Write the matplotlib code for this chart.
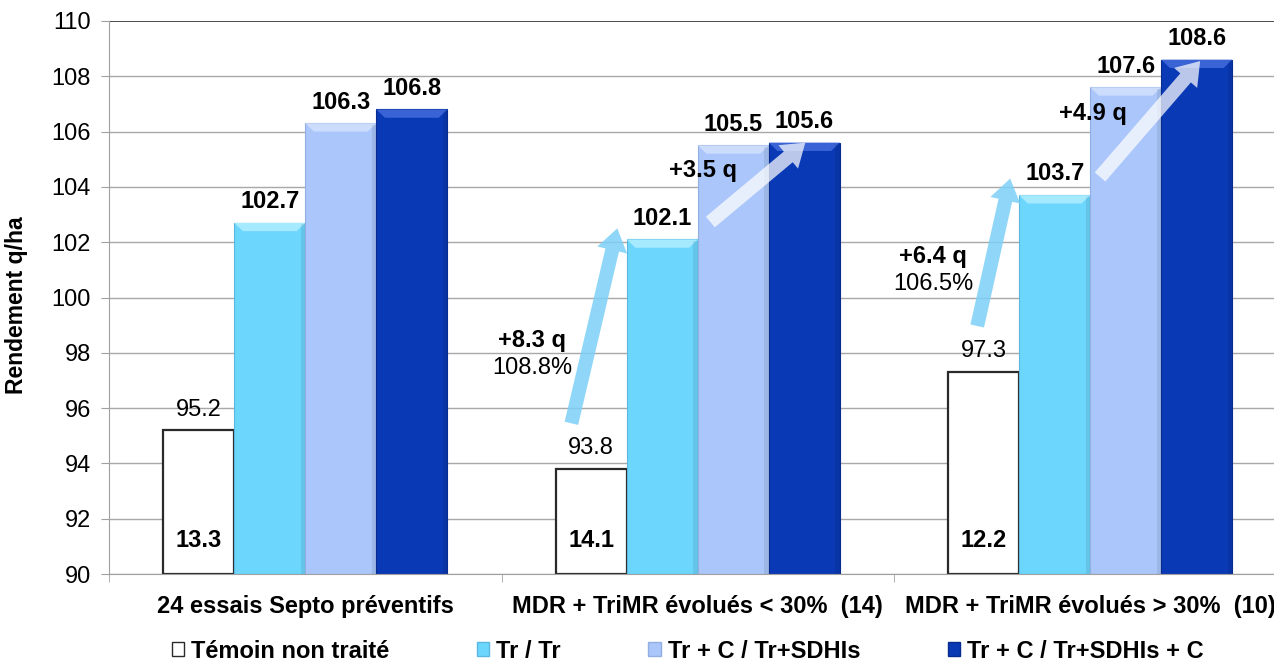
import matplotlib
matplotlib.use("Agg")
import matplotlib.pyplot as plt
from matplotlib.patches import Polygon, FancyArrowPatch, Rectangle
import numpy as np

plt.rcParams["font.family"] = ["Liberation Sans", "DejaVu Sans"]

# ---- data -------------------------------------------------------------
categories = [
    "24 essais Septo préventifs",
    "MDR + TriMR évolués < 30%  (14)",
    "MDR + TriMR évolués > 30%  (10)",
]
series_names = [
    "Témoin non traité",
    "Tr / Tr",
    "Tr + C / Tr+SDHIs",
    "Tr + C / Tr+SDHIs + C",
]
temoin = [95.2, 93.8, 97.3]
tr_tr = [102.7, 102.1, 103.7]
tr_c_sdhi = [106.3, 105.5, 107.6]
tr_c_sdhi_c = [106.8, 105.6, 108.6]
severity = [13.3, 14.1, 12.2]          # printed inside the untreated bars

# gain annotations: (group, bold first line, second line)
gain_texts = [
    (1, "+8.3 q", "108.8%"),
    (1, "+3.5 q", None),
    (2, "+6.4 q", "106.5%"),
    (2, "+4.9 q", None),
]
gain_text_pos = [(0.578, 98.45), (1.014, 104.61), (1.600, 101.5), (2.008, 106.67)]
# arrows: (tail x, tail y) -> (head x, head y), style
arrows = [
    ((0.678, 95.45), (0.795, 102.5), "blue"),
    ((1.032, 102.73), (1.274, 105.6), "white"),
    ((1.712, 98.97), (1.796, 104.3), "blue"),
    ((2.025, 104.36), (2.280, 108.55), "white"),
]

yticks = list(range(90, 111, 2))

# ---- style ------------------------------------------------------------
face_colors = ["#FFFFFF", "#6DD6FD", "#AAC6FA", "#0A39B5"]
top_colors = [None, "#A6EAFF", "#CCDCFD", "#3A63D6"]
edge_colors = ["#2A2A2A", "#5AB8E0", "#93AEE0", "#072C8E"]
FS = 17

fig = plt.figure(figsize=(12.74, 6.62), dpi=100)
ax = fig.add_axes([0.0856, 0.1329, 0.9242, 0.8354])

x = np.arange(len(categories))
bw = 0.181
offsets = [-1.5 * bw, -0.5 * bw, 0.5 * bw, 1.5 * bw]
all_series = [temoin, tr_tr, tr_c_sdhi, tr_c_sdhi_c]
ymin, ymax = 90, 110

ax.set_xlim(-0.5, 2.5)
ax.set_ylim(ymin, ymax)

# grid
for yv in yticks:
    ax.axhline(yv, color="#3A3A3A" if yv == ymax else "#A8A8A8",
               lw=1.3 if yv == ymax else 1.0, zorder=0)

for k, (vals, off) in enumerate(zip(all_series, offsets)):
    xs = x + off
    if k == 0:
        ax.bar(xs, np.array(vals) - ymin, bw, bottom=ymin, color=face_colors[k],
               edgecolor=edge_colors[k], linewidth=1.6, zorder=2)
    else:
        ax.bar(xs, np.array(vals) - ymin, bw, bottom=ymin, color=face_colors[k],
               edgecolor=edge_colors[k], linewidth=0.8, zorder=2)
        # bevelled top edge
        for xc, v in zip(xs, vals):
            x0, x1 = xc - bw / 2, xc + bw / 2
            d, h = 0.022, 0.3
            ax.add_patch(Polygon([(x0, v), (x1, v), (x1 - d, v - h), (x0 + d, v - h)],
                                 closed=True, facecolor=top_colors[k],
                                 edgecolor="none", zorder=3))
            ax.add_patch(Rectangle((x1 - 0.012, ymin), 0.012, v - ymin - 0.05,
                                   facecolor="black", alpha=0.08,
                                   edgecolor="none", zorder=3))

    for xc, v in zip(xs, vals):
        ax.annotate(f"{v:.1f}", (xc, v), xytext=(0, 7), textcoords="offset points",
                    ha="center", va="bottom", fontsize=FS,
                    fontweight="normal" if k == 0 else "bold", zorder=6)

# values inside untreated bars
for xc, s in zip(x + offsets[0], severity):
    ax.text(xc, ymin + 1.22, f"{s:.1f}", ha="center", va="center",
            fontsize=FS, fontweight="bold", zorder=6)

# arrows
for (tail, head, style) in arrows:
    if style == "blue":
        col, a = "#7CCFF8", 0.85
    else:
        col, a = "#FFFFFF", 0.72
    arr = FancyArrowPatch(tail, head,
                          arrowstyle="simple,tail_width=1.0,head_width=2.2,head_length=1.6",
                          mutation_scale=10, shrinkA=0, shrinkB=0,
                          facecolor=col, edgecolor="none", alpha=a, zorder=4)
    ax.add_patch(arr)

# gain texts
for (g, t1, t2), (tx, ty) in zip(gain_texts, gain_text_pos):
    ax.text(tx, ty, t1, ha="center", va="center", fontsize=FS,
            fontweight="bold", zorder=6)
    if t2:
        ax.text(tx, ty - 1.0, t2, ha="center", va="center", fontsize=FS, zorder=6)

# axes
for s in ["top", "right"]:
    ax.spines[s].set_visible(False)
ax.spines["left"].set_color("#A0A0A0")
ax.spines["bottom"].set_color("#A0A0A0")
ax.spines["bottom"].set_zorder(5)

ax.set_yticks(yticks)
ax.set_yticklabels([str(v) for v in yticks], fontsize=FS)
ax.tick_params(axis="y", length=6, color="#A0A0A0", pad=7)

ax.set_xticks(x)
ax.set_xticklabels(categories, fontsize=FS, fontweight="bold")
ax.tick_params(axis="x", which="major", length=0, pad=15)
ax.set_xticks([-0.5, 0.5, 1.5, 2.5], minor=True)
ax.tick_params(axis="x", which="minor", length=6, color="#A0A0A0")

ax.set_ylabel("Rendement q/ha", fontsize=16.5, fontweight="bold")
ax.yaxis.set_label_coords(-0.0685, 0.486)

# legend
handles = []
for k in range(4):
    handles.append(Rectangle((0, 0), 1, 1, facecolor=face_colors[k],
                             edgecolor="#2A2A2A" if k == 0 else edge_colors[k],
                             linewidth=1.0))
leg = fig.legend(handles, series_names, loc="center left",
                 bbox_to_anchor=(0.135, 0.0166), ncol=4, frameon=False,
                 prop={"size": FS, "weight": "bold"},
                 handlelength=0.52, handleheight=0.52, handletextpad=0.3,
                 columnspacing=3.7, borderpad=0, borderaxespad=0)

fig.savefig("out.png", dpi=100)
